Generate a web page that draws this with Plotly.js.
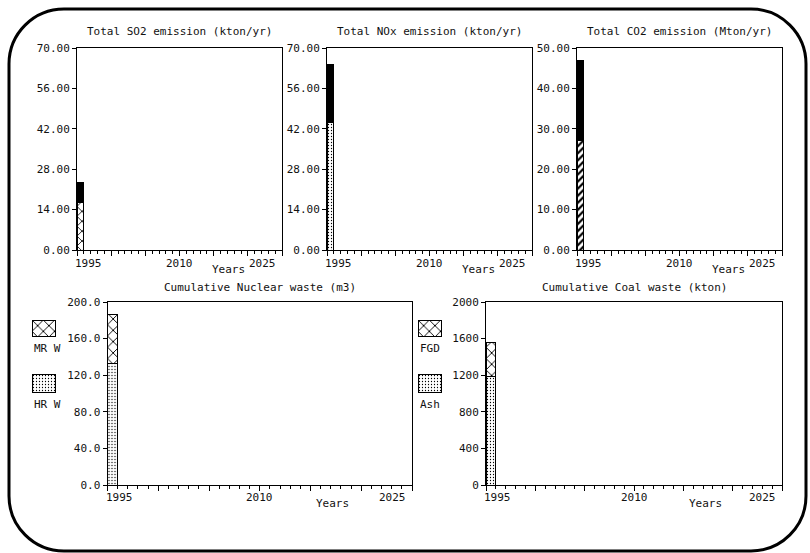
<!DOCTYPE html>
<html>
<head>
<meta charset="utf-8">
<script src="https://cdn.plot.ly/plotly-3.0.1.min.js"></script>
<style>
  html, body { margin: 0; padding: 0; background: #fff; }
  #chart { width: 810px; height: 553px; }
</style>
</head>
<body>
<div id="chart"></div>
<script>
// ---- data ----
const years = [1995];
const so2Lower = [16.4];
const so2Upper = [7.0];
const noxLower = [44.3];
const noxUpper = [19.9];
const co2Lower = [27.2];
const co2Upper = [19.7];
const nuclearHRW = [133];
const nuclearMRW = [53.5];
const coalAsh = [1190];
const coalFGD = [365];

const xTickYears = [1995, 2010, 2025];
const panelTitles = [
  'Total SO2 emission (kton/yr)',
  'Total NOx emission (kton/yr)',
  'Total CO2 emission (Mton/yr)',
  'Cumulative Nuclear waste (m3)',
  'Cumulative Coal waste (kton)'
];
const legendNames = ['MR W', 'HR W', 'FGD', 'Ash'];

// ---- layout helpers (pixel boxes -> paper fractions) ----
const W = 810, H = 553;
const px = x => x / W;
const py = y => 1 - y / H;

const FONT = 'DejaVu Sans Mono';
const font = { family: FONT, size: 11, color: '#111' };

// plot boxes [left, right, top, bottom] in pixels
const boxes = [
  [77, 282, 48, 250],
  [327, 532, 48, 250],
  [577, 782, 48, 250],
  [107.5, 412, 302, 485],
  [486, 782, 302, 485]
];
const yRanges = [[0, 70], [0, 70], [0, 50], [0, 200], [0, 2000]];
const yDticks = [14, 14, 10, 40, 400];
const yFormats = ['.2f', '.2f', '.2f', '.1f', 'd'];

// legend swatch boxes [left, right, top, bottom]
const swatches = [
  [32, 56, 320, 337],
  [32, 56, 374, 393],
  [418, 442, 320, 337],
  [418, 442, 374, 393]
];

const pat = {
  cross: s => ({ shape: 'x', size: s, solidity: 0.22, fgcolor: '#000', bgcolor: '#fff' }),
  dots: { shape: '.', size: 3, solidity: 0.14, fgcolor: '#000', bgcolor: '#fff' },
  diag: { shape: '/', size: 5, solidity: 0.45, fgcolor: '#000', bgcolor: '#fff' }
};

function bar(name, y, axisN, pattern, color) {
  const m = { color: color || '#fff', line: { color: '#000', width: 1 } };
  if (pattern) m.pattern = pattern;
  return {
    type: 'bar', name: name, x: years, y: y, width: 1, offset: 0,
    xaxis: 'x' + (axisN === 1 ? '' : axisN), yaxis: 'y' + (axisN === 1 ? '' : axisN),
    marker: m, showlegend: false, hoverinfo: 'x+y'
  };
}

const traces = [
  bar('SO2 base', so2Lower, 1, pat.cross(7)),
  bar('SO2 top', so2Upper, 1, null, '#000'),
  bar('NOx base', noxLower, 2, pat.dots),
  bar('NOx top', noxUpper, 2, null, '#000'),
  bar('CO2 base', co2Lower, 3, pat.diag),
  bar('CO2 top', co2Upper, 3, null, '#000'),
  bar('HR W', nuclearHRW, 4, pat.dots),
  bar('MR W', nuclearMRW, 4, pat.cross(8)),
  bar('Ash', coalAsh, 5, pat.dots),
  bar('FGD', coalFGD, 5, pat.cross(8))
];

// legend swatches, each on its own small axis pair
const swatchPatterns = [pat.cross(8), pat.dots, pat.cross(8), pat.dots];
swatchPatterns.forEach((p, i) => {
  const n = 6 + i;
  traces.push({
    type: 'bar', name: legendNames[i], x: [0], y: [1], width: 1,
    xaxis: 'x' + n, yaxis: 'y' + n, showlegend: false, hoverinfo: 'name',
    cliponaxis: false,
    marker: { color: '#fff', pattern: p, line: { color: '#000', width: 1.5 } }
  });
});

const layout = {
  width: W, height: H,
  margin: { l: 0, r: 0, t: 0, b: 0 },
  paper_bgcolor: '#fff', plot_bgcolor: '#fff',
  barmode: 'stack',
  showlegend: false,
  font: font,
  annotations: [],
  shapes: []
};

boxes.forEach((b, i) => {
  const n = i + 1;
  const xk = 'xaxis' + (n === 1 ? '' : n);
  const yk = 'yaxis' + (n === 1 ? '' : n);
  const xr = 'x' + (n === 1 ? '' : n);
  const yr = 'y' + (n === 1 ? '' : n);
  const bottomRow = i >= 3;
  layout[xk] = {
    domain: [px(b[0]), px(b[1])], anchor: yr,
    range: [1995, 2025], fixedrange: true,
    showgrid: false, zeroline: false,
    showline: true, linecolor: '#000', linewidth: 1, mirror: true,
    ticks: 'outside', tickmode: 'linear', tick0: 1995, dtick: 5,
    ticklen: 5, tickcolor: '#000', tickwidth: 1,
    minor: { dtick: 1, ticks: 'outside', ticklen: 3, tickcolor: '#000', tickwidth: 1 },
    showticklabels: false
  };
  layout[yk] = {
    domain: [py(b[3]), py(b[2])], anchor: xr,
    range: yRanges[i], fixedrange: true,
    showgrid: false, zeroline: false,
    showline: true, linecolor: '#000', linewidth: 1, mirror: true,
    ticks: 'outside', tickmode: 'linear', tick0: 0, dtick: yDticks[i],
    ticklen: 4, tickcolor: '#000', tickwidth: 1,
    tickformat: yFormats[i], ticklabelstandoff: 0,
    tickfont: { family: FONT, size: 11, color: '#111' }
  };

  // panel title
  layout.annotations.push({
    xref: 'paper', yref: 'paper',
    x: px((b[0] + b[1]) / 2), y: py(bottomRow ? 287 : 32),
    text: panelTitles[i], showarrow: false, font: font,
    xanchor: 'center', yanchor: 'middle'
  });

  // year labels under the x axis
  const labelY = py(bottomRow ? 497 : 263);
  xTickYears.forEach((yr0, k) => {
    layout.annotations.push({
      xref: xr, yref: 'paper', x: yr0, y: labelY,
      text: String(yr0), showarrow: false, font: font,
      xanchor: k === 0 ? 'left' : (k === 1 ? 'center' : 'right'),
      xshift: k === 0 ? -4 : (k === 2 ? -4 : 0),
      yanchor: 'middle'
    });
  });

  // "Years" axis caption
  layout.annotations.push({
    xref: xr, yref: 'paper', x: 2017.2, y: py(bottomRow ? 503 : 269),
    text: 'Years', showarrow: false, font: font,
    xanchor: 'center', yanchor: 'middle'
  });
});

swatches.forEach((s, i) => {
  const n = 6 + i;
  layout['xaxis' + n] = {
    domain: [px(s[0]), px(s[1])], anchor: 'y' + n, range: [-0.5, 0.5],
    visible: false, fixedrange: true
  };
  layout['yaxis' + n] = {
    domain: [py(s[3]), py(s[2])], anchor: 'x' + n, range: [0, 1],
    visible: false, fixedrange: true
  };
  layout.annotations.push({
    xref: 'paper', yref: 'paper', x: px(s[0]), y: py(s[3] + 11),
    text: legendNames[i], showarrow: false, font: font,
    xanchor: 'left', yanchor: 'middle'
  });
});

// rounded outer frame
(function () {
  const L = 9, T = 9, R = 806, B = 551, r = 55, k = 0.5523 * r;
  const P = (x, y) => px(x).toFixed(5) + ',' + py(y).toFixed(5);
  const path =
    'M' + P(L + r, T) +
    ' L' + P(R - r, T) +
    ' C' + P(R - r + k, T) + ' ' + P(R, T + r - k) + ' ' + P(R, T + r) +
    ' L' + P(R, B - r) +
    ' C' + P(R, B - r + k) + ' ' + P(R - r + k, B) + ' ' + P(R - r, B) +
    ' L' + P(L + r, B) +
    ' C' + P(L + r - k, B) + ' ' + P(L, B - r + k) + ' ' + P(L, B - r) +
    ' L' + P(L, T + r) +
    ' C' + P(L, T + r - k) + ' ' + P(L + r - k, T) + ' ' + P(L + r, T) + ' Z';
  layout.shapes.push({
    type: 'path', xref: 'paper', yref: 'paper', path: path,
    line: { color: '#000', width: 3 }, fillcolor: 'rgba(0,0,0,0)', layer: 'above'
  });
})();

Plotly.newPlot('chart', traces, layout, { displayModeBar: false, staticPlot: true });
</script>
</body>
</html>
